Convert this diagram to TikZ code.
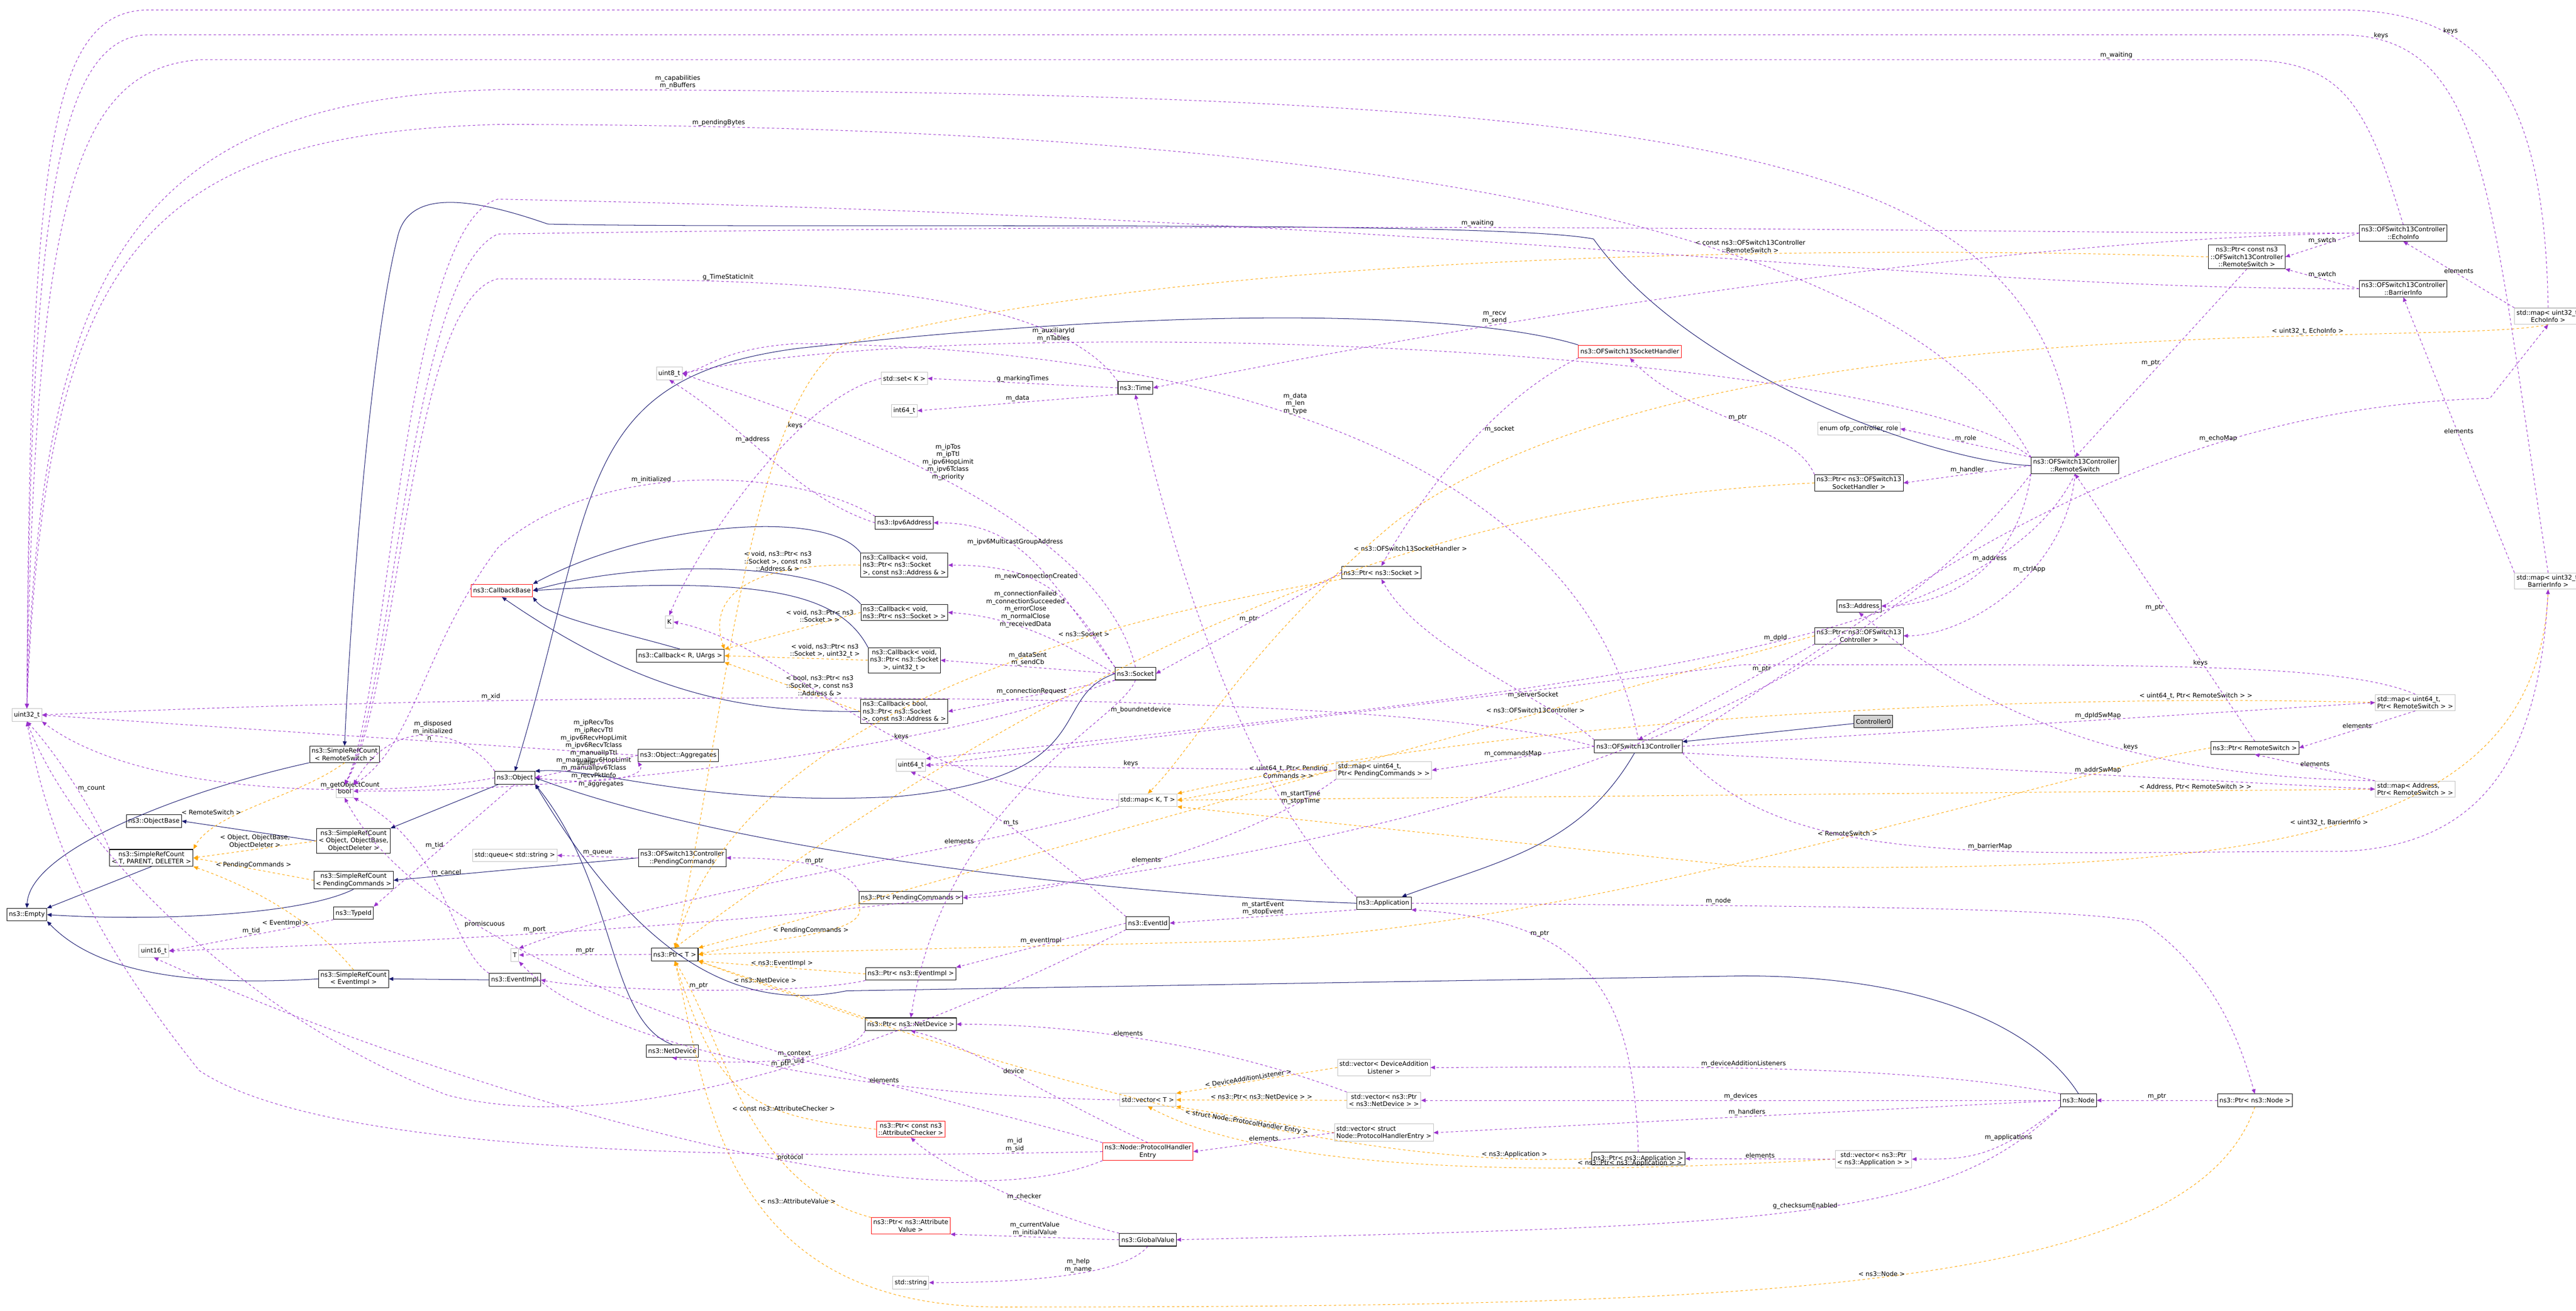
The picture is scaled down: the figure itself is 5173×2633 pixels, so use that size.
\documentclass[tikz,border=0pt]{standalone}
\usepackage{fontspec}
\setmainfont{DejaVu Sans}
\usetikzlibrary{arrows.meta}
\definecolor{navy}{RGB}{25,25,112}
\definecolor{purp}{RGB}{153,50,204}
\definecolor{orng}{RGB}{255,165,0}
\definecolor{lgray}{RGB}{191,191,191}
\begin{document}
\begin{tikzpicture}[x=0.01cm,y=-0.01cm,
  every node/.style={font=\fontsize{3.6}{4.3}\selectfont},
  cls/.style={draw=black,fill=white,line width=0.3pt,inner sep=1.1pt,minimum height=7.2pt,align=center},
  ext/.style={cls,draw=lgray},
  redb/.style={cls,draw=red},
  gr/.style={cls,fill=lgray!70},
  lbl/.style={inner sep=0.5pt,align=center,fill=none},
  inh/.style={draw=navy,line width=0.3pt,-{Triangle[length=2.6pt,width=2.2pt]}},
  mem/.style={draw=purp,dashed,dash pattern=on 1.4pt off 1.4pt,line width=0.3pt,-{Triangle[length=2.6pt,width=2.2pt]}},
  tpl/.style={mem,draw=orng}]
\useasboundingbox (0,0) rectangle (5173,2633);
% nodes
\node[gr] (c0) at (3762,1449) {Controller0};
\node[cls] (ctl) at (3290,1499) {ns3::OFSwitch13Controller};
\node[cls] (app) at (2779,1814) {ns3::Application};
\node[cls] (obj) at (1034,1562) {ns3::Object};
\node[cls] (objb) at (309,1649) {ns3::ObjectBase};
\node[cls] (srcT) at (304,1723) {ns3::SimpleRefCount\\< T, PARENT, DELETER >};
\node[cls] (srcO) at (710,1689) {ns3::SimpleRefCount\\< Object, ObjectBase,\\ ObjectDeleter >};
\node[cls] (srcP) at (710,1768) {ns3::SimpleRefCount\\< PendingCommands >};
\node[cls] (srcE) at (710,1966) {ns3::SimpleRefCount\\< EventImpl >};
\node[cls] (srcR) at (692,1515) {ns3::SimpleRefCount\\< RemoteSwitch >};
\node[ext] (bool) at (692,1589) {bool};
\node[cls] (empty) at (54,1837) {ns3::Empty};
\node[ext] (u32) at (54,1436) {uint32\_t};
\node[cls] (tid) at (710,1834) {ns3::TypeId};
\node[ext] (u16) at (309,1910) {uint16\_t};
\node[ext] (T) at (1034,1918) {T};
\node[cls] (evi) at (1034,1968) {ns3::EventImpl};
\node[ext] (que) at (1034,1718) {std::queue< std::string >};
\node[cls] (agg) at (1362,1517) {ns3::Object::Aggregates};
\node[redb] (cbb) at (1008,1186) {ns3::CallbackBase};
\node[ext] (u8) at (1344,750) {uint8\_t};
\node[ext] (setk) at (1816,760) {std::set< K >};
\node[ext] (i64) at (1816,825) {int64\_t};
\node[cls] (time) at (2280,779) {ns3::Time};
\node[cls] (ipv6) at (1816,1050) {ns3::Ipv6Address};
\node[cls,align=left] (cb1) at (1816,1135) {ns3::Callback< void,\\ ns3::Ptr< ns3::Socket\\ >, const ns3::Address \& >};
\node[cls,align=left] (cb2) at (1816,1230) {ns3::Callback< void,\\ ns3::Ptr< ns3::Socket > >};
\node[cls] (cb3) at (1816,1326) {ns3::Callback< void,\\ ns3::Ptr< ns3::Socket\\ >, uint32\_t >};
\node[cls,align=left] (cb4) at (1816,1429) {ns3::Callback< bool,\\ ns3::Ptr< ns3::Socket\\ >, const ns3::Address \& >};
\node[ext] (K) at (1344,1249) {K};
\node[cls] (cbR) at (1366,1317) {ns3::Callback< R, UArgs >};
\node[cls] (sock) at (2280,1353) {ns3::Socket};
\node[ext] (u64) at (1829,1537) {uint64\_t};
\node[ext] (mapKT) at (2305,1607) {std::map< K, T >};
\node[cls] (pc) at (1370,1723) {ns3::OFSwitch13Controller\\::PendingCommands};
\node[cls] (ptrpc) at (1829,1803) {ns3::Ptr< PendingCommands >};
\node[cls] (evid) at (2305,1854) {ns3::EventId};
\node[cls] (ptrT) at (1355,1917) {ns3::Ptr< T >};
\node[cls] (ptrev) at (1829,1956) {ns3::Ptr< ns3::EventImpl >};
\node[cls] (ptrnd) at (1829,2057) {ns3::Ptr< ns3::NetDevice >};
\node[cls] (nd) at (1350,2111) {ns3::NetDevice};
\node[ext] (vecT) at (2305,2209) {std::vector< T >};
\node[redb] (ptrac) at (1829,2268) {ns3::Ptr< const ns3\\::AttributeChecker >};
\node[redb] (phe) at (2305,2313) {ns3::Node::ProtocolHandler\\Entry};
\node[redb] (ptrav) at (1829,2462) {ns3::Ptr< ns3::Attribute\\Value >};
\node[cls] (gv) at (2305,2490) {ns3::GlobalValue};
\node[ext] (str) at (1829,2576) {std::string};
\node[redb] (sh) at (3273,706) {ns3::OFSwitch13SocketHandler};
\node[cls] (ptrs) at (2774,1150) {ns3::Ptr< ns3::Socket >};
\node[ext] (role) at (3733,861) {enum ofp\_controller\_role};
\node[cls] (ptrsh) at (3733,970) {ns3::Ptr< ns3::OFSwitch13\\SocketHandler >};
\node[cls] (addr) at (3733,1217) {ns3::Address};
\node[cls] (ptrc) at (3733,1277) {ns3::Ptr< ns3::OFSwitch13\\Controller >};
\node[ext,align=left] (mapPC) at (2779,1547) {std::map< uint64\_t,\\ Ptr< PendingCommands > >};
\node[ext] (vDAL) at (2779,2144) {std::vector< DeviceAddition\\Listener >};
\node[ext] (vND) at (2779,2210) {std::vector< ns3::Ptr\\< ns3::NetDevice > >};
\node[ext,align=left] (vPHE) at (2779,2275) {std::vector< struct\\ Node::ProtocolHandlerEntry >};
\node[cls] (ptrapp) at (3290,2327) {ns3::Ptr< ns3::Application >};
\node[ext] (vApp) at (3762,2328) {std::vector< ns3::Ptr\\< ns3::Application > >};
\node[cls] (echo) at (4826,468) {ns3::OFSwitch13Controller\\::EchoInfo};
\node[cls] (ptrcrs) at (4512,516) {ns3::Ptr< const ns3\\::OFSwitch13Controller\\::RemoteSwitch >};
\node[cls] (barr) at (4826,580) {ns3::OFSwitch13Controller\\::BarrierInfo};
\node[ext] (mapE) at (5117,635) {std::map< uint32\_t,\\EchoInfo >};
\node[cls] (rs) at (4167,935) {ns3::OFSwitch13Controller\\::RemoteSwitch};
\node[ext] (mapB) at (5117,1167) {std::map< uint32\_t,\\BarrierInfo >};
\node[ext,align=left] (mapRS) at (4850,1411) {std::map< uint64\_t,\\ Ptr< RemoteSwitch > >};
\node[cls] (ptrrs) at (4528,1502) {ns3::Ptr< RemoteSwitch >};
\node[ext,align=left] (mapA) at (4850,1585) {std::map< Address,\\ Ptr< RemoteSwitch > >};
\node[cls] (node) at (4174,2210) {ns3::Node};
\node[cls] (ptrnode) at (4528,2210) {ns3::Ptr< ns3::Node >};
% inheritance
\draw[inh] (c0) -- (ctl);
\draw[inh] (ctl) to[out=240,in=20] (app);
\draw[inh] (app.west) .. controls (2300,1800) and (1500,1720) .. (obj.east);
\draw[inh] (sock.west) .. controls (2100,1400) and (2220,1560) .. (1800,1600) .. controls (1400,1620) and (1200,1540) .. (obj.north east);
\draw[inh] (nd.north) .. controls (1220,2050) and (1240,1780) .. (obj.south east);
\draw[inh] (node.north) .. controls (4100,2080) and (3900,1960) .. (3500,1960) -- (1700,1990) .. controls (1500,2030) and (1300,1950) .. (obj.south east);
\draw[inh] (sh.north west) .. controls (3000,640) and (2500,600) .. (1600,700) .. controls (1150,760) and (1200,1000) .. (obj.north);
\draw[inh] (rs.west) .. controls (3900,930) and (3400,760) .. (3200,480) .. controls (3000,440) and (1500,460) .. (1100,450) .. controls (900,380) and (820,400) .. (800,470) .. controls (740,700) and (700,1300) .. (srcR.north);
\draw[inh] (obj) -- (srcO.north east);
\draw[inh] (srcO.west) -- (objb.east);
\draw[inh] (srcR.south west) .. controls (400,1580) and (60,1700) .. (empty.north);
\draw[inh] (srcT.south) -- (empty.north east);
\draw[inh] (srcP.south) .. controls (600,1840) and (300,1850) .. (empty.east);
\draw[inh] (srcE.west) .. controls (400,1980) and (200,1960) .. (empty.south east);
\draw[inh] (pc.west) -- (srcP.east);
\draw[inh] (evi.west) -- (srcE.east);
\draw[inh] (cb1.north west) .. controls (1660,1020) and (1300,1050) .. (cbb.north east);
\draw[inh] (cb2.north west) .. controls (1660,1130) and (1300,1120) .. (cbb.east);
\draw[inh] (cb3.north west) .. controls (1680,1180) and (1500,1160) .. (cbb.east);
\draw[inh] (cb4.west) .. controls (1500,1430) and (1300,1400) .. (cbb.south);
\draw[inh] (cbR.north) .. controls (1250,1270) and (1100,1240) .. (cbb.south east);
% template instances
\draw[tpl] (srcR.south) .. controls (600,1600) and (430,1630) .. node[lbl,pos=0.6,left]{< RemoteSwitch >} (srcT.north east);
\draw[tpl] (srcO.west) -- node[lbl,above]{< Object, ObjectBase,\\ObjectDeleter >} (srcT.east);
\draw[tpl] (srcP.west) -- node[lbl,above]{< PendingCommands >} (srcT.east);
\draw[tpl] (srcE.north) .. controls (620,1840) and (500,1780) .. node[lbl,pos=0.3,above left]{< EventImpl >} (srcT.south east);
\draw[tpl] (cb1.west) .. controls (1500,1130) and (1420,1200) .. node[lbl,pos=0.3,above]{< void, ns3::Ptr< ns3\\::Socket >, const ns3\\::Address \& >} (cbR.north east);
\draw[tpl] (cb2.west) -- node[lbl,above,pos=0.3]{< void, ns3::Ptr< ns3\\::Socket > >} (cbR.north east);
\draw[tpl] (cb3.west) -- node[lbl,above,pos=0.3]{< void, ns3::Ptr< ns3\\::Socket >, uint32\_t >} (cbR.east);
\draw[tpl] (cb4.west) -- node[lbl,above,pos=0.3]{< bool, ns3::Ptr< ns3\\::Socket >, const ns3\\::Address \& >} (cbR.south east);
\draw[tpl] (ptrs.south west) .. controls (2300,1230) and (1500,1400) .. node[lbl,pos=0.35,above]{< ns3::Socket >} (ptrT.north);
\draw[tpl] (ptrsh.west) .. controls (3000,1000) and (2300,1200) .. node[lbl,pos=0.4,above]{< ns3::OFSwitch13SocketHandler >} (ptrT.north);
\draw[tpl] (ptrc.west) -- node[lbl,pos=0.25,above]{< ns3::OFSwitch13Controller >} (ptrT.north east);
\draw[tpl] (ptrpc.south west) .. controls (1750,1880) and (1550,1880) .. node[lbl,pos=0.5,above]{< PendingCommands >} (ptrT.east);
\draw[tpl] (ptrev.west) -- node[lbl,above]{< ns3::EventImpl >} (ptrT.south east);
\draw[tpl] (ptrnd.north west) -- node[lbl,above,pos=0.6]{< ns3::NetDevice >} (ptrT.south east);
\draw[tpl] (ptrac.west) .. controls (1500,2240) and (1440,2200) .. node[lbl,pos=0.3,above]{< const ns3::AttributeChecker >} (ptrT.south);
\draw[tpl] (ptrav.north west) .. controls (1500,2380) and (1460,2100) .. node[lbl,pos=0.1,above left]{< ns3::AttributeValue >} (ptrT.south);
\draw[tpl] (ptrapp.west) .. controls (2700,2350) and (2000,2150) .. node[lbl,pos=0.1,above]{< ns3::Application >} (ptrT.south east);
\draw[tpl] (ptrnode.south) .. controls (4400,2600) and (3500,2625) .. node[lbl,pos=0.5,above]{< ns3::Node >} (2000,2625) .. controls (1450,2620) and (1420,2200) .. (ptrT.south);
\draw[tpl] (ptrrs.west) .. controls (4100,1560) and (3200,1860) .. node[lbl,pos=0.45,above]{< RemoteSwitch >} (2500,1890) -- (ptrT.east);
\draw[tpl] (ptrcrs.west) .. controls (4000,500) and (2500,480) .. node[lbl,pos=0.4,above]{< const ns3::OFSwitch13Controller\\::RemoteSwitch >} (1700,690) .. controls (1500,800) and (1450,1500) .. (ptrT.north);
\draw[tpl] (mapPC.west) -- node[lbl,above,pos=0.3]{< uint64\_t, Ptr< Pending\\Commands > >} (mapKT.east);
\draw[tpl] (mapRS.west) .. controls (4000,1390) and (3000,1450) .. node[lbl,pos=0.15,above]{< uint64\_t, Ptr< RemoteSwitch > >} (mapKT.north east);
\draw[tpl] (mapA.west) -- node[lbl,pos=0.15,above]{< Address, Ptr< RemoteSwitch > >} (mapKT.east);
\draw[tpl] (mapE.south) .. controls (4900,700) and (3400,600) .. node[lbl,pos=0.3,above]{< uint32\_t, EchoInfo >} (2800,1050) .. controls (2500,1300) and (2400,1500) .. (mapKT.north);
\draw[tpl] (mapB.south) .. controls (5100,1700) and (4500,1755) .. node[lbl,pos=0.5,above]{< uint32\_t, BarrierInfo >} (3500,1740) -- (mapKT.south east);
\draw[tpl] (vDAL.west) -- node[lbl,pos=0.55,above,sloped]{< DeviceAdditionListener >} (vecT.north east);
\draw[tpl] (vND.west) -- node[lbl,pos=0.5,above]{< ns3::Ptr< ns3::NetDevice > >} (vecT.east);
\draw[tpl] (vPHE.west) -- node[lbl,pos=0.55,below,sloped]{< struct Node::ProtocolHandler Entry >} (vecT.south east);
\draw[tpl] (vApp.west) .. controls (3300,2350) and (2600,2380) .. node[lbl,pos=0.3,above]{< ns3::Ptr< ns3::Application > >} (vecT.south);
% members
\draw[mem] (srcT.north west) .. controls (200,1650) and (120,1520) .. node[lbl,pos=0.5,right]{m\_count} (u32.south);
\draw[mem] (obj.west) .. controls (800,1600) and (300,1610) .. node[lbl,pos=0.35,above]{m\_getObjectCount} (u32.south east);
\draw[mem] (agg.west) -- node[lbl,pos=0.35,above]{n} (u32.east);
\draw[mem] (ctl.west) .. controls (2800,1380) and (1200,1385) .. node[lbl,pos=0.75,above]{m\_xid} (u32.east);
\draw[mem] (mapE.north) .. controls (5110,200) and (5000,20) .. node[lbl,pos=0.7,above]{keys} (4700,20) -- (300,20) .. controls (100,20) and (60,300) .. (u32.north);
\draw[mem] (mapB.north) .. controls (5000,400) and (5000,70) .. node[lbl,pos=0.9,above]{keys} (4700,70) -- (300,70) .. controls (120,70) and (60,400) .. (u32.north);
\draw[mem] (echo.north) .. controls (4750,200) and (4700,120) .. (4500,120) -- (2000,120) node[lbl,above,pos=0.1]{m\_waiting} -- (400,120) .. controls (150,140) and (70,400) .. (u32.north);
\draw[mem] (rs.north) .. controls (4100,300) and (3500,180) .. node[lbl,pos=0.95,above]{m\_capabilities\\m\_nBuffers} (1000,180) .. controls (300,200) and (80,500) .. (u32.north);
\draw[mem] (rs.north west) .. controls (3800,400) and (2500,250) .. node[lbl,pos=0.9,above]{m\_pendingBytes} (1000,250) .. controls (300,270) and (90,500) .. (u32.north);
\draw[mem] (evid.south west) .. controls (1900,2050) and (1300,2300) .. node[lbl,pos=0.5,above]{m\_context\\m\_uid} (900,2200) .. controls (500,2050) and (150,1700) .. (u32.south);
\draw[mem] (phe.west) .. controls (1800,2320) and (700,2350) .. node[lbl,pos=0.12,above]{m\_id\\m\_sid} (400,2150) .. controls (200,1900) and (100,1700) .. (u32.south);
\draw[mem] (obj.north west) .. controls (950,1480) and (800,1420) .. node[lbl,pos=0.5,above]{m\_disposed\\m\_initialized} (bool.north east);
\draw[mem] (evi.north west) .. controls (900,1900) and (900,1700) .. node[lbl,pos=0.6,right]{m\_cancel} (bool.south east);
\draw[mem] (sock.south west) .. controls (1900,1500) and (1200,1590) .. node[lbl,pos=0.7,above]{m\_ipRecvTos\\m\_ipRecvTtl\\m\_ipv6RecvHopLimit\\m\_ipv6RecvTclass\\m\_manualIpTtl\\m\_manualIpv6HopLimit\\m\_manualIpv6Tclass\\m\_recvPktInfo} (bool.east);
\draw[mem] (ipv6.north west) .. controls (1600,940) and (1200,920) .. node[lbl,pos=0.6,above]{m\_initialized} (1000,1100) .. controls (850,1300) and (830,1500) .. (bool.north east);
\draw[mem] (time.north west) .. controls (2100,560) and (1500,560) .. node[lbl,pos=0.7,above]{g\_TimeStaticInit} (1000,560) .. controls (820,600) and (800,1400) .. (bool.north);
\draw[mem] (echo.west) .. controls (4000,470) and (3000,440) .. node[lbl,pos=0.6,above]{m\_waiting} (1000,470) .. controls (820,550) and (790,1400) .. (bool.north);
\draw[mem] (barr.west) .. controls (3800,580) and (3000,440) .. (1000,400) .. controls (810,450) and (780,1400) .. (bool.north);
\draw[mem] (phe.north west) .. controls (1900,2200) and (900,2000) .. node[lbl,pos=0.75,above]{promiscuous} (bool.south);
\draw[mem] (ipv6.west) .. controls (1600,1000) and (1500,860) .. node[lbl,pos=0.6,above]{m\_address} (u8.south);
\draw[mem] (sock.north) .. controls (2200,1000) and (1500,800) .. node[lbl,pos=0.45,above]{m\_ipTos\\m\_ipTtl\\m\_ipv6HopLimit\\m\_ipv6Tclass\\m\_priority} (u8.east);
\draw[mem] (rs.north west) .. controls (3800,700) and (2000,620) .. node[lbl,pos=0.72,above]{m\_auxiliaryId\\m\_nTables} (u8.east);
\draw[mem] (ctl.north) .. controls (3200,1000) and (2600,700) .. node[lbl,pos=0.6,above]{m\_data\\m\_len\\m\_type} (1600,690) .. controls (1450,700) and (1420,740) .. (u8.east);
\draw[mem] (time.west) -- node[lbl,above]{g\_markingTimes} (setk.east);
\draw[mem] (time.south west) -- node[lbl,above]{m\_data} (i64.east);
\draw[mem] (setk.west) .. controls (1600,800) and (1400,1100) .. node[lbl,pos=0.3,left]{keys} (K.north);
\draw[mem] (mapKT.west) .. controls (1800,1590) and (1600,1300) .. node[lbl,pos=0.4,above]{keys} (K.east);
\draw[mem] (echo.west) .. controls (4000,480) and (3000,640) .. node[lbl,pos=0.7,above]{m\_recv\\m\_send} (time.east);
\draw[mem] (app.north west) .. controls (2500,1600) and (2350,1100) .. node[lbl,pos=0.25,right]{m\_startTime\\m\_stopTime} (time.south);
\draw[mem] (sock.north west) .. controls (2100,1150) and (2050,1050) .. node[lbl,pos=0.6,above]{m\_ipv6MulticastGroupAddress} (ipv6.east);
\draw[mem] (sock.north west) .. controls (2150,1200) and (2100,1135) .. node[lbl,pos=0.6,above]{m\_newConnectionCreated} (cb1.east);
\draw[mem] (sock.west) .. controls (2150,1300) and (2050,1240) .. node[lbl,pos=0.6,above]{m\_connectionFailed\\m\_connectionSucceeded\\m\_errorClose\\m\_normalClose\\m\_receivedData} (cb2.east);
\draw[mem] (sock.west) -- node[lbl,above,pos=0.5]{m\_dataSent\\m\_sendCb} (cb3.east);
\draw[mem] (sock.south west) -- node[lbl,above,pos=0.5]{m\_connectionRequest} (cb4.east);
\draw[mem] (ptrs.west) -- node[lbl,above]{m\_ptr} (sock.east);
\draw[mem] (sh.south west) .. controls (3000,800) and (2850,1000) .. node[lbl,pos=0.4,right]{m\_socket} (ptrs.north);
\draw[mem] (ctl.north west) .. controls (3100,1400) and (2850,1300) .. node[lbl,pos=0.3,above]{m\_serverSocket} (ptrs.south);
\draw[mem] (ptrsh.north west) .. controls (3600,850) and (3400,850) .. node[lbl,pos=0.5,above]{m\_ptr} (sh.south);
\draw[mem] (rs.west) -- node[lbl,above]{m\_handler} (ptrsh.east);
\draw[mem] (rs.north west) -- node[lbl,above]{m\_role} (role.east);
\draw[mem] (rs.south west) .. controls (4050,1150) and (3900,1217) .. node[lbl,pos=0.4,above]{m\_address} (addr.east);
\draw[mem] (rs.south) .. controls (4150,1150) and (3950,1277) .. node[lbl,pos=0.4,above]{m\_ctrlApp} (ptrc.east);
\draw[mem] (ptrc.south west) -- node[lbl,pos=0.3,above]{m\_ptr} (ctl.north);
\draw[mem] (ptrcrs.south) -- node[lbl,pos=0.5,left]{m\_ptr} (rs.north);
\draw[mem] (ptrrs.north) -- node[lbl,pos=0.5,left]{m\_ptr} (rs.south);
\draw[mem] (echo.west) -- node[lbl,above]{m\_swtch} (ptrcrs.east);
\draw[mem] (barr.west) -- node[lbl,above]{m\_swtch} (ptrcrs.south east);
\draw[mem] (mapE.north west) -- node[lbl,above]{elements} (echo.south);
\draw[mem] (mapB.north west) -- node[lbl,above]{elements} (barr.south);
\draw[mem] (ctl.north east) .. controls (3700,1300) and (4200,820) .. node[lbl,pos=0.75,above]{m\_echoMap} (5000,800) -- (mapE.south);
\draw[mem] (ctl.south east) .. controls (3600,1750) and (4000,1710) .. node[lbl,pos=0.6,above]{m\_barrierMap} (4700,1710) .. controls (5000,1700) and (5100,1500) .. (mapB.south);
\draw[mem] (ctl.east) -- node[lbl,pos=0.6,above]{m\_dpIdSwMap} (mapRS.west);
\draw[mem] (ctl.south east) -- node[lbl,pos=0.6,above]{m\_addrSwMap} (mapA.west);
\draw[mem] (mapRS.south) -- node[lbl,above]{elements} (ptrrs.east);
\draw[mem] (mapA.north west) -- node[lbl,above]{elements} (ptrrs.south);
\draw[mem] (mapA.north west) .. controls (4300,1560) and (4000,1450) .. node[lbl,pos=0.4,above]{keys} (addr.south);
\draw[mem] (mapRS.north) .. controls (4700,1330) and (4300,1335) .. node[lbl,pos=0.5,above]{keys} (3500,1335) -- (u64.east);
\draw[mem] (mapPC.west) -- node[lbl,above]{keys} (u64.east);
\draw[mem] (rs.south) .. controls (4000,1300) and (3200,1380) .. node[lbl,pos=0.45,above]{m\_dpId} (u64.north east);
\draw[mem] (sock.south) .. controls (2250,1450) and (1900,1600) .. node[lbl,pos=0.2,right]{m\_boundnetdevice} (ptrnd.north);
\draw[mem] (evid.north west) .. controls (2100,1700) and (1950,1600) .. node[lbl,pos=0.5,above]{m\_ts} (u64.south);
\draw[mem] (ctl.west) -- node[lbl,above]{m\_commandsMap} (mapPC.east);
\draw[mem] (mapPC.south west) .. controls (2500,1700) and (2100,1800) .. node[lbl,pos=0.5,above]{elements} (ptrpc.east);
\draw[mem] (ptrpc.north west) .. controls (1700,1740) and (1600,1723) .. node[lbl,pos=0.5,above]{m\_ptr} (pc.east);
\draw[mem] (pc.west) -- node[lbl,above]{m\_queue} (que.east);
\draw[mem] (tid.south west) -- node[lbl,above]{m\_tid} (u16.east);
\draw[mem] (rs.south west) .. controls (3500,1700) and (2000,1850) .. node[lbl,pos=0.85,above]{m\_port} (u16.east);
\draw[mem] (phe.south west) .. controls (1800,2500) and (700,2100) .. node[lbl,pos=0.35,above]{protocol} (u16.south);
\draw[mem] (obj.south) -- node[lbl,left]{m\_tid} (tid.north east);
\draw[mem] (ptrT.west) -- node[lbl,above]{m\_ptr} (T.east);
\draw[mem] (vecT.west) .. controls (1700,2200) and (1200,2100) .. node[lbl,pos=0.3,above]{elements} (T.south east);
\draw[mem] (mapKT.south west) .. controls (2000,1700) and (1300,1800) .. node[lbl,pos=0.3,above]{elements} (T.north east);
\draw[mem] (agg.west) -- node[lbl,above]{buffer} (obj.east);
\draw[mem] (obj.east) .. controls (1200,1580) and (1300,1560) .. node[lbl,pos=0.4,below]{m\_aggregates} (agg.south west);
\draw[mem] (ptrev.south west) .. controls (1600,2000) and (1200,1990) .. node[lbl,pos=0.5,above]{m\_ptr} (evi.east);
\draw[mem] (evid.west) -- node[lbl,above]{m\_eventImpl} (ptrev.north east);
\draw[mem] (app.south west) -- node[lbl,above]{m\_startEvent\\m\_stopEvent} (evid.east);
\draw[mem] (ptrnd.south west) .. controls (1700,2140) and (1450,2140) .. node[lbl,pos=0.5,below]{m\_ptr} (nd.south);
\draw[mem] (vND.north west) .. controls (2400,2080) and (2100,2057) .. node[lbl,pos=0.5,above]{elements} (ptrnd.east);
\draw[mem] (phe.north) .. controls (2100,2200) and (1950,2100) .. node[lbl,pos=0.5,above]{device} (ptrnd.south);
\draw[mem] (node.north west) .. controls (3800,2130) and (3200,2144) .. node[lbl,pos=0.5,above]{m\_deviceAdditionListeners} (vDAL.east);
\draw[mem] (node.west) -- node[lbl,above]{m\_devices} (vND.east);
\draw[mem] (node.west) -- node[lbl,above]{m\_handlers} (vPHE.east);
\draw[mem] (node.south west) .. controls (4000,2330) and (3950,2328) .. node[lbl,pos=0.3,above]{m\_applications} (vApp.east);
\draw[mem] (vPHE.west) -- node[lbl,above]{elements} (phe.east);
\draw[mem] (vApp.west) -- node[lbl,above]{elements} (ptrapp.east);
\draw[mem] (ptrapp.north) .. controls (3280,2000) and (3200,1850) .. node[lbl,pos=0.7,above]{m\_ptr} (app.south east);
\draw[mem] (app.east) .. controls (3600,1820) and (4100,1820) .. node[lbl,pos=0.3,above]{m\_node} (4300,1850) .. controls (4450,1950) and (4500,2100) .. (ptrnode.north);
\draw[mem] (ptrnode.west) -- node[lbl,above]{m\_ptr} (node.east);
\draw[mem] (node.south west) .. controls (3900,2450) and (3600,2460) .. node[lbl,pos=0.5,above]{g\_checksumEnabled} (gv.east);
\draw[mem] (gv.north west) .. controls (2100,2440) and (1900,2350) .. node[lbl,pos=0.4,above]{m\_checker} (ptrac.south);
\draw[mem] (gv.west) -- node[lbl,above]{m\_currentValue\\m\_initialValue} (ptrav.south east);
\draw[mem] (gv.south) .. controls (2250,2570) and (2000,2576) .. node[lbl,pos=0.4,above]{m\_help\\m\_name} (str.east);
\end{tikzpicture}
\end{document}
